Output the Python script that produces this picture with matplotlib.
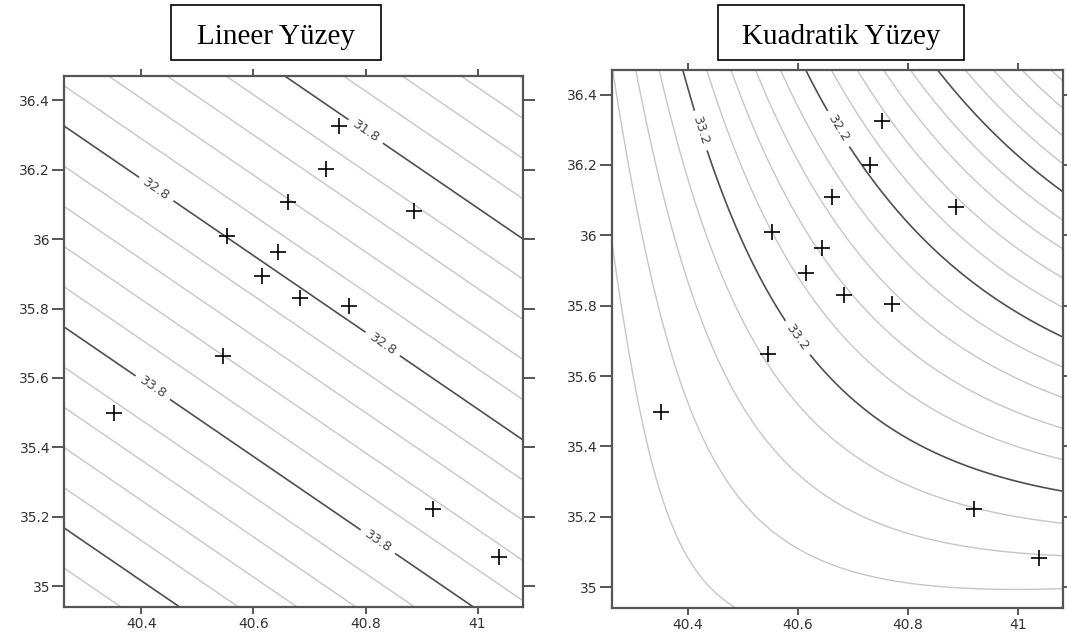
import numpy as np
import matplotlib
matplotlib.use("Agg")
import matplotlib.pyplot as plt
from matplotlib.patches import Rectangle

# station coordinates
lon = [40.352, 40.546, 40.553, 40.615, 40.643, 40.661, 40.683, 40.730, 40.753, 40.770, 40.887, 40.920, 41.038]
lat = [35.498, 35.664, 36.010, 35.893, 35.963, 36.108, 35.830, 36.201, 36.326, 35.806, 36.082, 35.221, 35.083]

titles = ["Lineer Yüzey", "Kuadratik Yüzey"]
xticks = [40.4, 40.6, 40.8, 41.0]
xticklabels = ["40.4", "40.6", "40.8", "41"]
yticks = [35.0, 35.2, 35.4, 35.6, 35.8, 36.0, 36.2, 36.4]
yticklabels = ["35", "35.2", "35.4", "35.6", "35.8", "36", "36.2", "36.4"]
xlim = (40.262, 41.081)
ylim = (34.94, 36.47)

# linear trend surface: z = z_ref + gx*(x - x_ref) + gy*(y - y_ref)
lin_ref = (40.263, 36.325, 32.8)
lin_grad = (-1.908, -1.727)

# quadratic trend surface around (x0, y0):
# z = c0 + c1*u + c2*v + c3*u^2 + c4*u*v + c5*v^2, with u = x - x0, v = y - y0
quad_origin = (40.6, 35.7)
quad_coef = [33.2063, -2.3546, -1.1016, 0.6561, -2.5975, -0.1631]

contour_step = 0.2
lin_major = [31.8, 32.8, 33.8, 34.8]
quad_major = [29.2, 30.2, 31.2, 32.2, 33.2, 34.2, 35.2]

gx = np.linspace(xlim[0], xlim[1], 500)
gy = np.linspace(ylim[0], ylim[1], 500)
X, Y = np.meshgrid(gx, gy)
Z_lin = lin_ref[2] + lin_grad[0] * (X - lin_ref[0]) + lin_grad[1] * (Y - lin_ref[1])
U = X - quad_origin[0]
V = Y - quad_origin[1]
c = quad_coef
Z_quad = c[0] + c[1] * U + c[2] * V + c[3] * U * U + c[4] * U * V + c[5] * V * V

fig = plt.figure(figsize=(10.67, 6.34), dpi=100)
W, H = 1067.0, 634.0


def px_axes(l, t, r, b):
    return fig.add_axes([l / W, 1 - b / H, (r - l) / W, (b - t) / H])


def style(ax):
    ax.set_xlim(*xlim)
    ax.set_ylim(*ylim)
    ax.set_xticks(xticks)
    ax.set_xticklabels(xticklabels)
    ax.set_yticks(yticks)
    ax.set_yticklabels(yticklabels)
    for s in ax.spines.values():
        s.set_color("#555555")
        s.set_linewidth(1.6)
        s.set_zorder(5)
    ax.tick_params(axis="x", which="both", direction="out", length=5, width=1.4,
                   color="#555555", top=True, bottom=True, labeltop=False,
                   labelsize=10, labelcolor="#333333", pad=2)
    ax.tick_params(axis="y", which="both", direction="out", length=8.5, width=1.4,
                   color="#555555", left=True, right=True, labelright=False,
                   labelsize=10, labelcolor="#333333", pad=1.5)


def split_levels(zmin, zmax, major):
    n0 = int(np.floor(zmin / contour_step)) - 1
    n1 = int(np.ceil(zmax / contour_step)) + 1
    allv = [round(k * contour_step, 1) for k in range(n0, n1 + 1)]
    minor = [v for v in allv if not any(abs(v - m) < 1e-6 for m in major)]
    return minor, major


def draw_panel(ax, Z, major, label_at):
    minor, major = split_levels(Z.min(), Z.max(), major)
    ax.contour(X, Y, Z, levels=minor, colors="#c6c6c6", linewidths=1.0)
    cs = ax.contour(X, Y, Z, levels=major, colors="#4f4f4f", linewidths=1.2)
    ax.clabel(cs, fmt="%.1f", fontsize=9.5, colors="#444444", inline=True,
              inline_spacing=6, manual=label_at)
    ax.plot(lon, lat, "k+", markersize=11, mew=1.2, zorder=4)
    style(ax)


ax1 = px_axes(64, 76, 523, 607)
draw_panel(ax1, Z_lin, lin_major,
           [(40.799, 36.307), (40.426, 36.143), (40.830, 35.696), (40.420, 35.571), (40.821, 35.126)])

ax2 = px_axes(611.7, 70, 1063, 608.3)
draw_panel(ax2, Z_quad, quad_major,
           [(40.416, 36.294), (40.664, 36.294), (40.596, 35.705)])

# boxed panel titles
for (l, t, r, b), label, cx in [((171, 5, 380.6, 60), titles[0], 275.8),
                                ((717.6, 5.3, 964.4, 60.3), titles[1], 841.0)]:
    fig.add_artist(Rectangle((l / W, 1 - b / H), (r - l) / W, (b - t) / H, transform=fig.transFigure,
                             facecolor="white", edgecolor="black", linewidth=1.2))
    fig.text(cx / W, 1 - 43.5 / H, label, ha="center", va="baseline",
             fontfamily="Liberation Serif", fontsize=21)

fig.savefig("out.png", dpi=100)
